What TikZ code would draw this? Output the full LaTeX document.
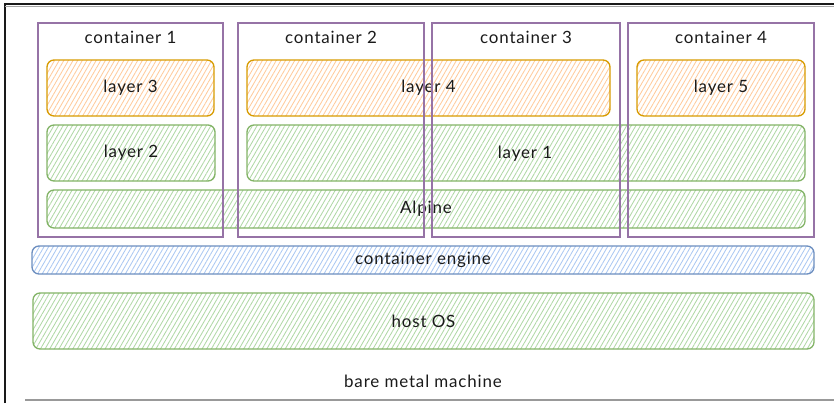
\documentclass[tikz,border=0pt]{standalone}
\usepackage{fontspec}
\setmainfont{Lato}[LetterSpace=5]
\usetikzlibrary{patterns.meta,calc}

\definecolor{ink}{HTML}{1A1A1A}
\definecolor{purpleStroke}{HTML}{9673A6}
\definecolor{orangeStroke}{HTML}{D79B00}
\definecolor{orangeFill}{HTML}{FFCB9C}
\definecolor{greenStroke}{HTML}{82B366}
\definecolor{greenFill}{HTML}{B0D8A6}
\definecolor{blueStroke}{HTML}{6C8EBF}
\definecolor{blueFill}{HTML}{ABC8F2}

\tikzset{
  hatched/.style 2 args={
    draw=#1, line width=1.3bp, rounded corners=7bp,
    pattern={Lines[angle=60, distance=4bp, line width=0.85bp]},
    pattern color=#2,
    inner sep=0pt, outer sep=0pt, anchor=north west,
    font=\fontsize{17}{19}\selectfont, text=ink
  },
  orangebox/.style={hatched={orangeStroke}{orangeFill}},
  greenbox/.style={hatched={greenStroke}{greenFill}},
  bluebox/.style={hatched={blueStroke}{blueFill}},
  containerbox/.style={
    draw=purpleStroke, line width=1.2bp, inner sep=0pt, outer sep=0pt,
    anchor=north west
  },
  caption/.style={font=\fontsize{17}{19}\selectfont, text=ink, inner sep=0pt}
}

\begin{document}
\begin{tikzpicture}[x=1bp, y=-1bp]
  \useasboundingbox (0,0) rectangle (834,403);

  % machine frame
  \draw[ink, line width=2bp] (5,403) -- (5,4) -- (834,4);
  \draw[gray!70, line width=0.8bp] (5,6.5) -- (834,6.5);
  \draw[gray!80, line width=2bp] (25,400) -- (834,400);

  % image layers
  \node[orangebox, minimum width=167bp, minimum height=56bp] (l3) at (47,60) {layer 3};
  \node[orangebox, minimum width=363bp, minimum height=56bp] (l4) at (247,60) {layer 4};
  \node[orangebox, minimum width=168bp, minimum height=56bp] (l5) at (637,60) {layer 5};
  \node[greenbox, minimum width=168bp, minimum height=56bp] (l2) at (47,125) {layer 2};
  \node[greenbox, minimum width=558bp, minimum height=56bp] (l1) at (247,125) {};
  \node[caption] (l1t) at (525,154) {layer 1};
  \node[greenbox, minimum width=758bp, minimum height=38bp] (alp) at (47,190) {Alpine};

  % runtime and host
  \node[bluebox, minimum width=782bp, minimum height=28bp] (eng) at (32,246) {container engine};
  \node[greenbox, minimum width=781bp, minimum height=56bp] (os) at (33,293) {host OS};
  \node[caption] (bm) at (423,381) {bare metal machine};

  % containers
  \node[containerbox, minimum width=185bp, minimum height=214bp] (c1) at (38,23) {};
  \node[containerbox, minimum width=186bp, minimum height=214bp] (c2) at (238,23) {};
  \node[containerbox, minimum width=188bp, minimum height=214bp] (c3) at (432,23) {};
  \node[containerbox, minimum width=186bp, minimum height=214bp] (c4) at (628,23) {};
  \node[caption] (c1t) at ($(c1.north)+(0,14)$) {container 1};
  \node[caption] (c2t) at ($(c2.north)+(0,14)$) {container 2};
  \node[caption] (c3t) at ($(c3.north)+(0,14)$) {container 3};
  \node[caption] (c4t) at ($(c4.north)+(0,14)$) {container 4};
\end{tikzpicture}
\end{document}
